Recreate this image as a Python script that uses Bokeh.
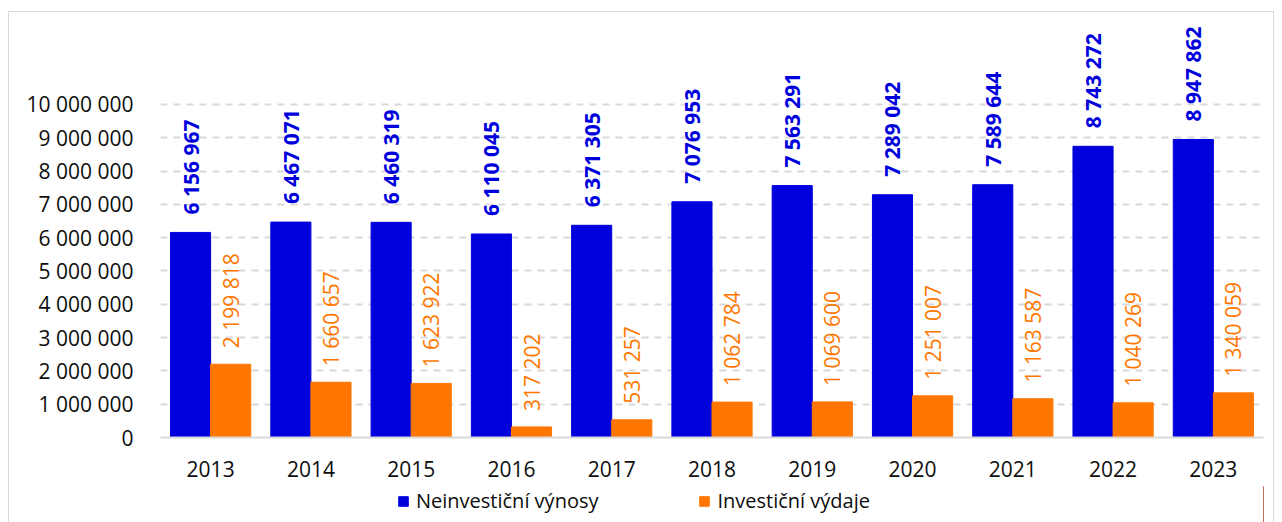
import math
from bokeh.plotting import figure
from bokeh.layouts import column
from bokeh.models import ColumnDataSource, FactorRange, Range1d, FixedTicker, Legend, LegendItem, CustomJSTickFormatter
from bokeh.transform import dodge
from bokeh.core.properties import value
from bokeh.embed import file_html
from bokeh.resources import INLINE

years = ["2013", "2014", "2015", "2016", "2017", "2018", "2019", "2020", "2021", "2022", "2023"]
neinvesticni_vynosy = [6156967, 6467071, 6460319, 6110045, 6371305, 7076953, 7563291, 7289042, 7589644, 8743272, 8947862]
investicni_vydaje = [2199818, 1660657, 1623922, 317202, 531257, 1062784, 1069600, 1251007, 1163587, 1040269, 1340059]
series_names = ["Neinvestiční výnosy", "Investiční výdaje"]
y_ticks = [0, 1000000, 2000000, 3000000, 4000000, 5000000, 6000000, 7000000, 8000000, 9000000, 10000000]

BLUE = "#0000DC"
ORANGE = "#FF7700"
FONT = "Open Sans"
FS = "21px"
BORDER = "1px solid #d9d9d9"


def fmt(v):
    return f"{v:,}".replace(",", " ")


src = ColumnDataSource(dict(
    year=years,
    a=neinvesticni_vynosy,
    b=investicni_vydaje,
    la=[fmt(v) for v in neinvesticni_vynosy],
    lb=[fmt(v) for v in investicni_vydaje],
))

p = figure(
    width=1266, height=475,
    x_range=FactorRange(*years, range_padding=0),
    y_range=Range1d(0, 12340000),
    output_backend="svg", toolbar_location=None,
    min_border_left=151, min_border_right=12, min_border_top=14, min_border_bottom=50,
)
p.styles = {"border-top": BORDER, "border-left": BORDER, "border-right": BORDER, "box-sizing": "border-box"}
p.outline_line_color = None

r1 = p.vbar(x=dodge("year", -0.2, range=p.x_range), top="a", width=0.4, source=src,
            fill_color=BLUE, line_color=BLUE)
r2 = p.vbar(x=dodge("year", 0.2, range=p.x_range), top="b", width=0.4, source=src,
            fill_color=ORANGE, line_color=ORANGE)

p.text(x=dodge("year", -0.2, range=p.x_range), y="a", text="la", source=src,
       angle=math.pi / 2, text_align="left", text_baseline="middle", y_offset=-18,
       text_color=BLUE, text_font=value(FONT), text_font_style="bold", text_font_size=FS)
p.text(x=dodge("year", 0.2, range=p.x_range), y="b", text="lb", source=src,
       angle=math.pi / 2, text_align="left", text_baseline="middle", y_offset=-16,
       text_color=ORANGE, text_font=value(FONT), text_font_size=FS)

# axes
p.yaxis.ticker = FixedTicker(ticks=y_ticks)
p.yaxis.formatter = CustomJSTickFormatter(code="return tick.toFixed(0).replace(/\\B(?=(\\d{3})+(?!\\d))/g, ' ');")
p.yaxis.axis_line_color = None
p.yaxis.major_tick_line_color = None
p.yaxis.minor_tick_line_color = None
p.yaxis.major_label_standoff = 21
p.yaxis.major_label_text_font = FONT
p.yaxis.major_label_text_font_size = FS
p.yaxis.major_label_text_color = "#0d0d0d"

p.xaxis.axis_line_color = "#d9d9d9"
p.xaxis.axis_line_width = 2
p.xaxis.major_tick_line_color = None
p.xaxis.minor_tick_line_color = None
p.xaxis.major_label_standoff = 17
p.xaxis.major_label_text_font = FONT
p.xaxis.major_label_text_font_size = FS
p.xaxis.major_label_text_color = "#0d0d0d"

p.xgrid.grid_line_color = None
p.ygrid.grid_line_color = "#d9d9d9"
p.ygrid.grid_line_width = 2
p.ygrid.grid_line_dash = "7 6"

# legend strip below the chart (same borders as the chart so the frames align)
lg = figure(
    width=1266, height=36, x_range=Range1d(0, 1), y_range=Range1d(0, 1),
    x_axis_type=None, y_axis_type=None,
    output_backend="svg", toolbar_location=None,
    min_border_left=151, min_border_right=12, min_border_top=0, min_border_bottom=0,
)
lg.styles = {"border-left": BORDER, "border-right": BORDER, "box-sizing": "border-box"}
lg.outline_line_color = None
lg.grid.visible = False
# swatch sources for the legend, placed outside the visible range
g1 = lg.vbar(x=[5], top=[1], width=0.1, fill_color=BLUE, line_color=BLUE)
g2 = lg.vbar(x=[5], top=[1], width=0.1, fill_color=ORANGE, line_color=ORANGE)

legend = Legend(items=[LegendItem(label=series_names[0], renderers=[g1]),
                       LegendItem(label=series_names[1], renderers=[g2])],
                orientation="horizontal", location=(237, 8),
                glyph_width=12, glyph_height=12, label_standoff=7, spacing=100,
                padding=0, margin=0, border_line_color=None, background_fill_alpha=0,
                label_text_font=FONT, label_text_font_size="20px", label_text_color="#0d0d0d")
lg.add_layout(legend)

layout = column(p, lg, spacing=0, margin=(11, 0, 0, 8))

open("out.html", "w").write(file_html(layout, INLINE))
